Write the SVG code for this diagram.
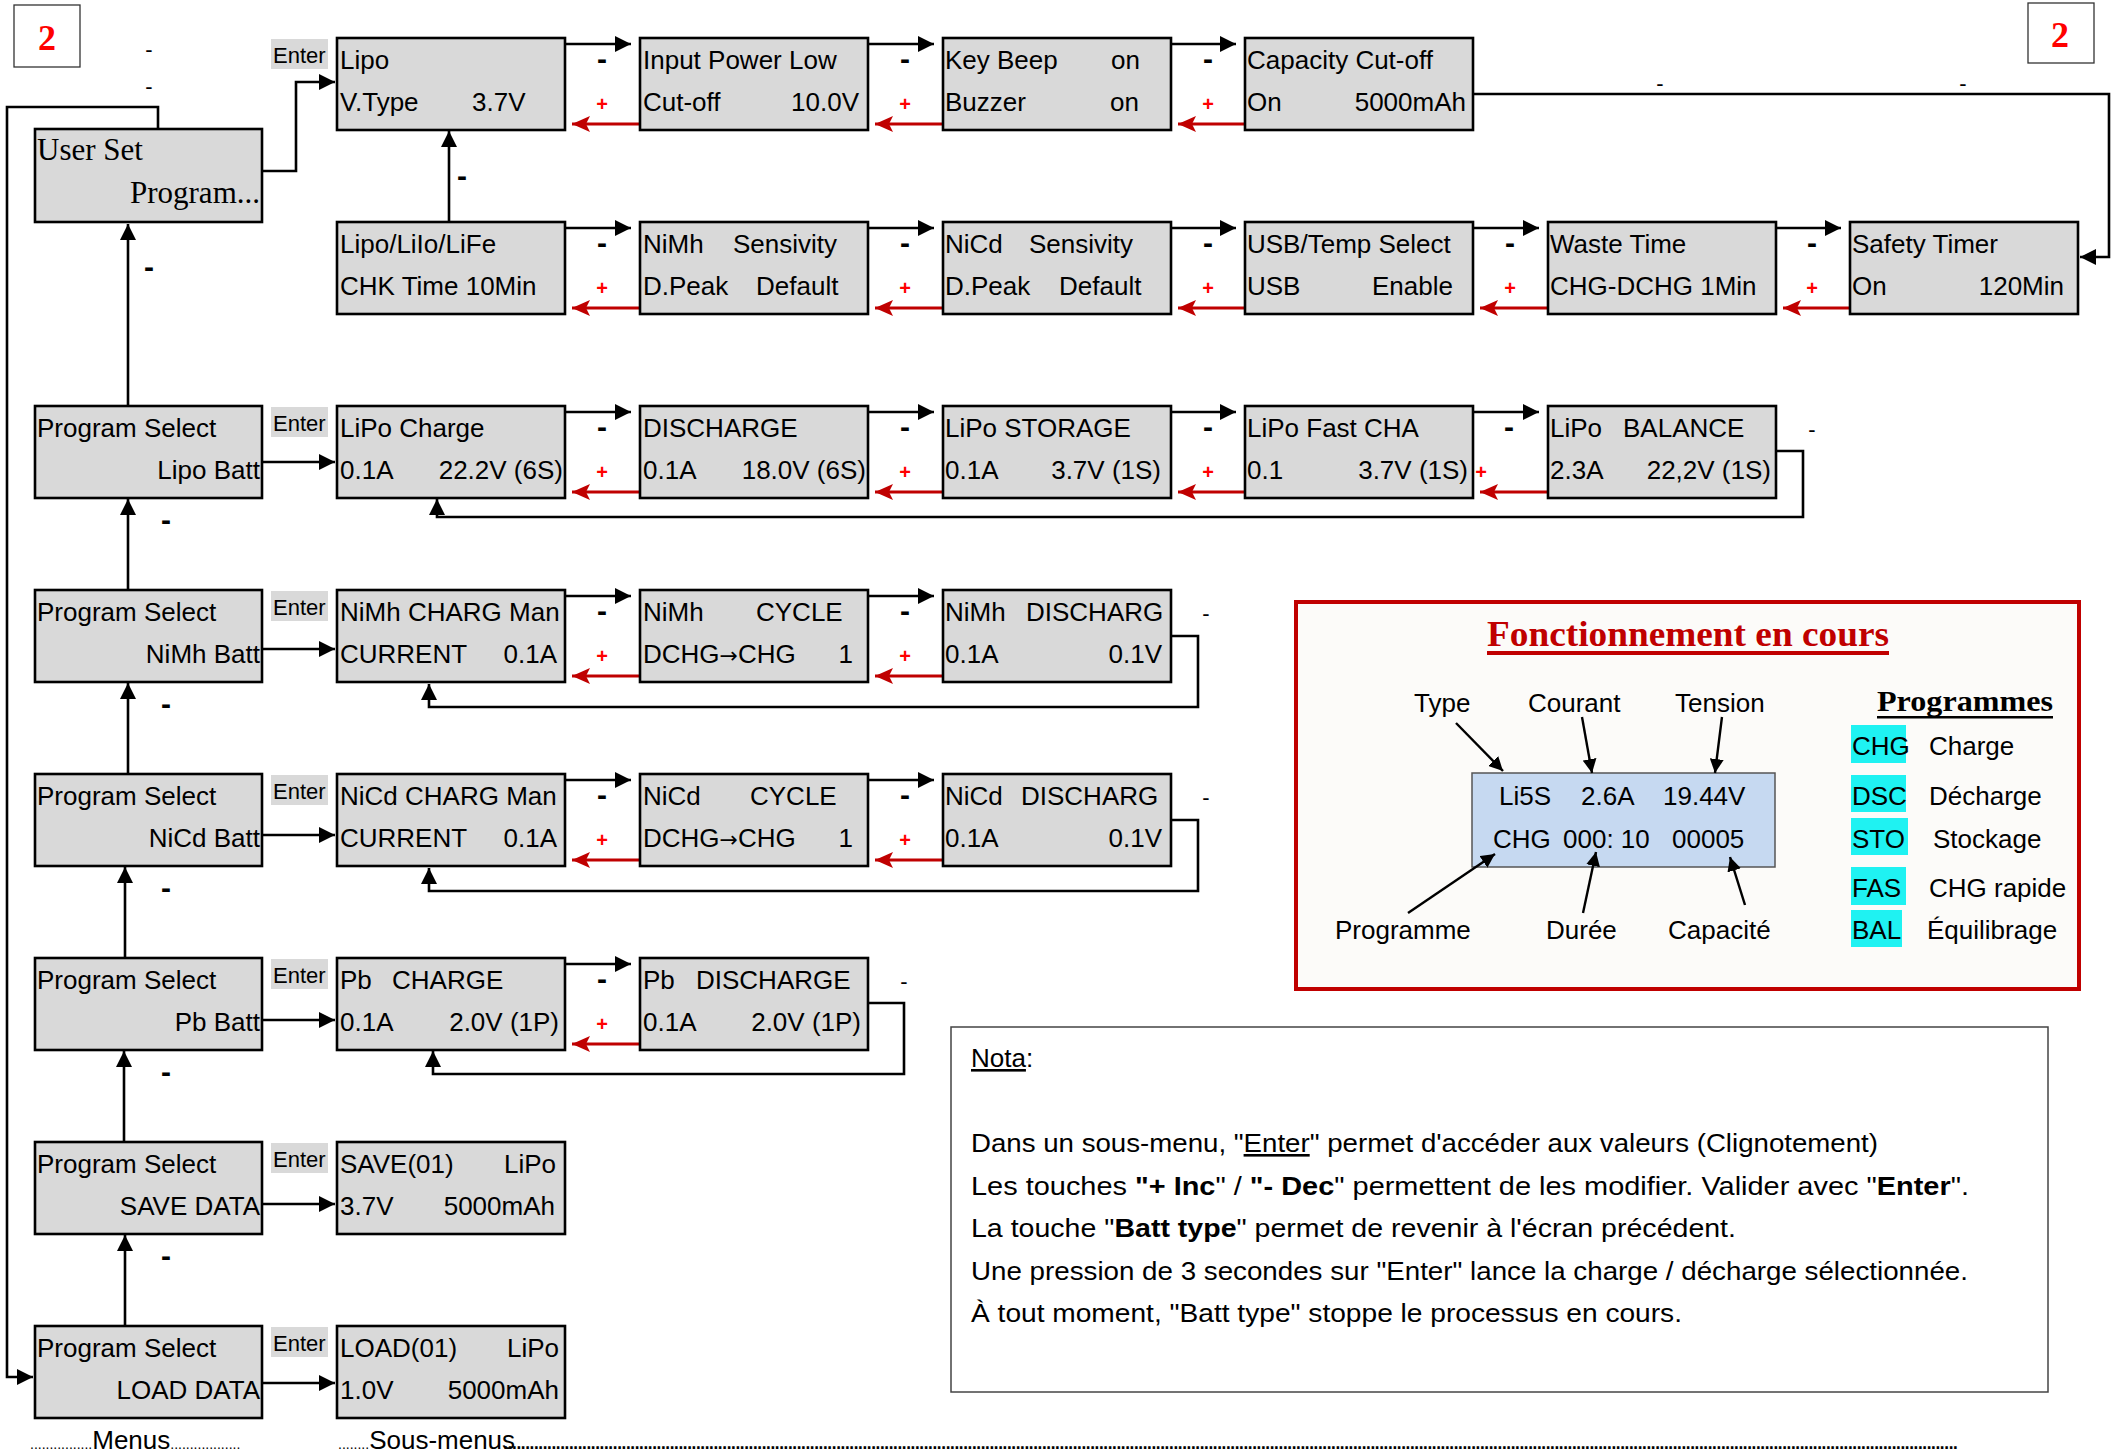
<svg xmlns="http://www.w3.org/2000/svg" width="2123" height="1455" viewBox="0 0 2123 1455">
<defs>
<style>
.box{fill:#d9d9d9;stroke:#000;stroke-width:2.6}
.t{font-family:"Liberation Sans",Arial,sans-serif;font-size:26px;fill:#000}
.se{font-family:"Liberation Serif","Times New Roman",serif}
.ar{font-family:"DejaVu Sans",sans-serif;font-size:22px}
.ent{fill:#d9d9d9}
.et{font-family:"Liberation Sans",Arial,sans-serif;font-size:22px;fill:#000}
.ln{fill:none;stroke:#000;stroke-width:2.6}
.rl{fill:none;stroke:#c00000;stroke-width:3}
.mn{font-family:"Liberation Sans",Arial,sans-serif;font-size:30px;font-weight:bold;text-anchor:middle}
.mt{font-family:"Liberation Sans",Arial,sans-serif;font-size:22px;text-anchor:middle}
.pl{font-family:"Liberation Sans",Arial,sans-serif;font-size:20px;font-weight:bold;fill:#ff0000;text-anchor:middle}
.pa{fill:none;stroke:#000;stroke-width:2.4}
.cy{fill:#1ff2f2}
</style>
<marker id="ah" viewBox="0 0 16 16" refX="16" refY="8" markerWidth="16" markerHeight="16" markerUnits="userSpaceOnUse" orient="auto"><path d="M0,0 L16,8 L0,16 z" fill="#000"/></marker>
<marker id="ar" viewBox="0 0 18 16" refX="18" refY="8" markerWidth="18" markerHeight="16" markerUnits="userSpaceOnUse" orient="auto"><path d="M0,0 L18,8 L0,16 L4,8 z" fill="#c00000"/></marker>
<marker id="as" viewBox="0 0 14 14" refX="14" refY="7" markerWidth="14" markerHeight="14" markerUnits="userSpaceOnUse" orient="auto"><path d="M0,0 L14,7 L0,14 z" fill="#000"/></marker>
</defs>
<rect width="2123" height="1455" fill="#fff"/>

<g id="n-page-left">
<rect x="14" y="5" width="66" height="62" fill="#fff" stroke="#333" stroke-width="1.3"/>
<text class="se" x="47" y="50" font-size="36" font-weight="bold" fill="#ff0000" text-anchor="middle">2</text>
</g>
<g id="n-page-right">
<rect x="2028" y="3" width="66" height="60" fill="#fff" stroke="#333" stroke-width="1.3"/>
<text class="se" x="2060" y="47" font-size="36" font-weight="bold" fill="#ff0000" text-anchor="middle">2</text>
</g>

<g id="connectors">
<path class="ln" d="M158,129 V107 H7 V1377 H33" marker-end="url(#ah)"/>
<path class="ln" d="M260,171 H296 V82 H335" marker-end="url(#ah)"/>
<path class="ln" d="M449,222 V131" marker-end="url(#ah)"/>
<path class="ln" d="M1473,94 H2109 V257 H2080" marker-end="url(#ah)"/>
<path class="ln" d="M128,406 V224" marker-end="url(#ah)"/>
<path class="ln" d="M128,590 V499" marker-end="url(#ah)"/>
<path class="ln" d="M128,774 V683" marker-end="url(#ah)"/>
<path class="ln" d="M125,958 V867" marker-end="url(#ah)"/>
<path class="ln" d="M124,1142 V1051" marker-end="url(#ah)"/>
<path class="ln" d="M125,1326 V1235" marker-end="url(#ah)"/>
<path class="ln" d="M262,462 H335" marker-end="url(#ah)"/>
<path class="ln" d="M262,649 H335" marker-end="url(#ah)"/>
<path class="ln" d="M262,835 H335" marker-end="url(#ah)"/>
<path class="ln" d="M262,1020 H335" marker-end="url(#ah)"/>
<path class="ln" d="M262,1204 H335" marker-end="url(#ah)"/>
<path class="ln" d="M262,1383 H335" marker-end="url(#ah)"/>
<path class="ln" d="M565,44 H631" marker-end="url(#ah)"/>
<path class="ln" d="M868,44 H934" marker-end="url(#ah)"/>
<path class="ln" d="M1171,44 H1236" marker-end="url(#ah)"/>
<path class="rl" d="M640,124 H572" marker-end="url(#ar)"/>
<path class="rl" d="M943,124 H875" marker-end="url(#ar)"/>
<path class="rl" d="M1245,124 H1178" marker-end="url(#ar)"/>
<path class="ln" d="M565,228 H631" marker-end="url(#ah)"/>
<path class="ln" d="M868,228 H934" marker-end="url(#ah)"/>
<path class="ln" d="M1171,228 H1236" marker-end="url(#ah)"/>
<path class="ln" d="M1473,228 H1539" marker-end="url(#ah)"/>
<path class="ln" d="M1776,228 H1841" marker-end="url(#ah)"/>
<path class="rl" d="M640,308 H572" marker-end="url(#ar)"/>
<path class="rl" d="M943,308 H875" marker-end="url(#ar)"/>
<path class="rl" d="M1245,308 H1178" marker-end="url(#ar)"/>
<path class="rl" d="M1548,308 H1480" marker-end="url(#ar)"/>
<path class="rl" d="M1850,308 H1783" marker-end="url(#ar)"/>
<path class="ln" d="M565,412 H631" marker-end="url(#ah)"/>
<path class="ln" d="M868,412 H934" marker-end="url(#ah)"/>
<path class="ln" d="M1171,412 H1236" marker-end="url(#ah)"/>
<path class="ln" d="M1473,412 H1539" marker-end="url(#ah)"/>
<path class="rl" d="M640,492 H572" marker-end="url(#ar)"/>
<path class="rl" d="M943,492 H875" marker-end="url(#ar)"/>
<path class="rl" d="M1245,492 H1178" marker-end="url(#ar)"/>
<path class="rl" d="M1548,492 H1480" marker-end="url(#ar)"/>
<path class="ln" d="M1776,451 H1803 V517 H437 V499" marker-end="url(#ah)"/>
<path class="ln" d="M565,596 H631" marker-end="url(#ah)"/>
<path class="ln" d="M868,596 H934" marker-end="url(#ah)"/>
<path class="rl" d="M640,676 H572" marker-end="url(#ar)"/>
<path class="rl" d="M943,676 H875" marker-end="url(#ar)"/>
<path class="ln" d="M1171,636 H1198 V707 H429 V684" marker-end="url(#ah)"/>
<path class="ln" d="M565,780 H631" marker-end="url(#ah)"/>
<path class="ln" d="M868,780 H934" marker-end="url(#ah)"/>
<path class="rl" d="M640,860 H572" marker-end="url(#ar)"/>
<path class="rl" d="M943,860 H875" marker-end="url(#ar)"/>
<path class="ln" d="M1171,820 H1198 V891 H429 V868" marker-end="url(#ah)"/>
<path class="ln" d="M565,964 H631" marker-end="url(#ah)"/>
<path class="rl" d="M640,1044 H572" marker-end="url(#ar)"/>
<path class="ln" d="M868,1003 H904 V1074 H433 V1051" marker-end="url(#ah)"/>
</g>

<g id="connector-labels">
<text class="mt" x="149" y="57" font-size="18">-</text>
<text class="mt" x="149" y="94">-</text>
<text class="mt" x="1660" y="91">-</text>
<text class="mt" x="1963" y="91">-</text>
<text class="mn" x="149" y="277">-</text>
<text class="mn" x="462" y="186">-</text>
<text class="mn" x="166" y="530">-</text>
<text class="mn" x="166" y="714">-</text>
<text class="mn" x="166" y="898">-</text>
<text class="mn" x="166" y="1082">-</text>
<text class="mn" x="166" y="1266">-</text>
<text class="mn" x="602" y="69">-</text><text class="mn" x="905" y="69">-</text><text class="mn" x="1208" y="69">-</text>
<text class="pl" x="602" y="111">+</text><text class="pl" x="905" y="111">+</text><text class="pl" x="1208" y="111">+</text>
<text class="mn" x="602" y="253">-</text><text class="mn" x="905" y="253">-</text><text class="mn" x="1208" y="253">-</text><text class="mn" x="1510" y="253">-</text><text class="mn" x="1812" y="253">-</text>
<text class="pl" x="602" y="295">+</text><text class="pl" x="905" y="295">+</text><text class="pl" x="1208" y="295">+</text><text class="pl" x="1510" y="295">+</text><text class="pl" x="1812" y="295">+</text>
<text class="mn" x="602" y="437">-</text><text class="mn" x="905" y="437">-</text><text class="mn" x="1208" y="437">-</text><text class="mn" x="1509" y="437">-</text>
<text class="pl" x="602" y="479">+</text><text class="pl" x="905" y="479">+</text><text class="pl" x="1208" y="479">+</text><text class="pl" x="1481" y="479">+</text>
<text class="mt" x="1812" y="437" font-size="24">-</text>
<text class="mn" x="602" y="621">-</text><text class="mn" x="905" y="621">-</text>
<text class="pl" x="602" y="663">+</text><text class="pl" x="905" y="663">+</text>
<text class="mt" x="1206" y="621" font-size="24">-</text>
<text class="mn" x="602" y="805">-</text><text class="mn" x="905" y="805">-</text>
<text class="pl" x="602" y="847">+</text><text class="pl" x="905" y="847">+</text>
<text class="mt" x="1206" y="805" font-size="24">-</text>
<text class="mn" x="602" y="989">-</text>
<text class="pl" x="602" y="1031">+</text>
<text class="mt" x="904" y="989" font-size="24">-</text>
</g>

<g id="enter-labels">
<rect class="ent" x="271" y="39" width="57" height="30"/><text class="et" x="273" y="63">Enter</text>
<rect class="ent" x="271" y="407" width="57" height="30"/><text class="et" x="273" y="431">Enter</text>
<rect class="ent" x="271" y="591" width="57" height="30"/><text class="et" x="273" y="615">Enter</text>
<rect class="ent" x="271" y="775" width="57" height="30"/><text class="et" x="273" y="799">Enter</text>
<rect class="ent" x="271" y="959" width="57" height="30"/><text class="et" x="273" y="983">Enter</text>
<rect class="ent" x="271" y="1143" width="57" height="30"/><text class="et" x="273" y="1167">Enter</text>
<rect class="ent" x="271" y="1327" width="57" height="30"/><text class="et" x="273" y="1351">Enter</text>
</g>

<g id="n-userset"><rect class="box" x="35" y="129" width="227" height="93"/>
<text class="se" x="37" y="160" font-size="31">User Set</text>
<text class="se" x="260" y="203" font-size="31" text-anchor="end">Program...</text></g>
<g id="n-menu-lipo"><rect class="box" x="35" y="406" width="227" height="92"/>
<text class="t" x="37" y="437">Program Select</text><text class="t" x="260" y="479" text-anchor="end">Lipo Batt</text></g>
<g id="n-menu-nimh"><rect class="box" x="35" y="590" width="227" height="92"/>
<text class="t" x="37" y="621">Program Select</text><text class="t" x="260" y="663" text-anchor="end">NiMh Batt</text></g>
<g id="n-menu-nicd"><rect class="box" x="35" y="774" width="227" height="92"/>
<text class="t" x="37" y="805">Program Select</text><text class="t" x="260" y="847" text-anchor="end">NiCd Batt</text></g>
<g id="n-menu-pb"><rect class="box" x="35" y="958" width="227" height="92"/>
<text class="t" x="37" y="989">Program Select</text><text class="t" x="260" y="1031" text-anchor="end">Pb Batt</text></g>
<g id="n-menu-save"><rect class="box" x="35" y="1142" width="227" height="92"/>
<text class="t" x="37" y="1173">Program Select</text><text class="t" x="260" y="1215" text-anchor="end">SAVE DATA</text></g>
<g id="n-menu-load"><rect class="box" x="35" y="1326" width="227" height="92"/>
<text class="t" x="37" y="1357">Program Select</text><text class="t" x="260" y="1399" text-anchor="end">LOAD DATA</text></g>

<g id="n-lipo-vtype"><rect class="box" x="337" y="38" width="228" height="92"/>
<text class="t" x="340" y="69">Lipo</text><text class="t" x="340" y="111">V.Type<tspan x="472">3.7V</tspan></text></g>
<g id="n-input-power"><rect class="box" x="640" y="38" width="228" height="92"/>
<text class="t" x="643" y="69">Input Power Low</text><text class="t" x="643" y="111">Cut-off<tspan x="859" text-anchor="end">10.0V</tspan></text></g>
<g id="n-keybeep"><rect class="box" x="943" y="38" width="228" height="92"/>
<text class="t" x="945" y="69">Key Beep<tspan x="1140" text-anchor="end">on</tspan></text><text class="t" x="945" y="111">Buzzer<tspan x="1139" text-anchor="end">on</tspan></text></g>
<g id="n-capacity"><rect class="box" x="1245" y="38" width="228" height="92"/>
<text class="t" x="1247" y="69">Capacity Cut-off</text><text class="t" x="1247" y="111">On<tspan x="1466" text-anchor="end">5000mAh</tspan></text></g>

<g id="n-chemistry"><rect class="box" x="337" y="222" width="228" height="92"/>
<text class="t" x="340" y="253">Lipo/LiIo/LiFe</text><text class="t" x="340" y="295">CHK Time 10Min</text></g>
<g id="n-nimh-sens"><rect class="box" x="640" y="222" width="228" height="92"/>
<text class="t" x="643" y="253">NiMh<tspan x="733">Sensivity</tspan></text><text class="t" x="643" y="295">D.Peak<tspan x="756">Default</tspan></text></g>
<g id="n-nicd-sens"><rect class="box" x="943" y="222" width="228" height="92"/>
<text class="t" x="945" y="253">NiCd<tspan x="1029">Sensivity</tspan></text><text class="t" x="945" y="295">D.Peak<tspan x="1059">Default</tspan></text></g>
<g id="n-usb"><rect class="box" x="1245" y="222" width="228" height="92"/>
<text class="t" x="1247" y="253">USB/Temp Select</text><text class="t" x="1247" y="295">USB<tspan x="1372">Enable</tspan></text></g>
<g id="n-waste"><rect class="box" x="1548" y="222" width="228" height="92"/>
<text class="t" x="1550" y="253">Waste Time</text><text class="t" x="1550" y="295">CHG-DCHG 1Min</text></g>
<g id="n-safety"><rect class="box" x="1850" y="222" width="228" height="92"/>
<text class="t" x="1852" y="253">Safety Timer</text><text class="t" x="1852" y="295">On<tspan x="2064" text-anchor="end">120Min</tspan></text></g>

<g id="n-lipo-charge"><rect class="box" x="337" y="406" width="228" height="92"/>
<text class="t" x="340" y="437">LiPo Charge</text><text class="t" x="340" y="479">0.1A<tspan x="563" text-anchor="end">22.2V (6S)</tspan></text></g>
<g id="n-lipo-dis"><rect class="box" x="640" y="406" width="228" height="92"/>
<text class="t" x="643" y="437">DISCHARGE</text><text class="t" x="643" y="479">0.1A<tspan x="866" text-anchor="end">18.0V (6S)</tspan></text></g>
<g id="n-lipo-sto"><rect class="box" x="943" y="406" width="228" height="92"/>
<text class="t" x="945" y="437">LiPo STORAGE</text><text class="t" x="945" y="479">0.1A<tspan x="1161" text-anchor="end">3.7V (1S)</tspan></text></g>
<g id="n-lipo-fast"><rect class="box" x="1245" y="406" width="228" height="92"/>
<text class="t" x="1247" y="437">LiPo Fast CHA</text><text class="t" x="1247" y="479">0.1<tspan x="1468" text-anchor="end">3.7V (1S)</tspan></text></g>
<g id="n-lipo-bal"><rect class="box" x="1548" y="406" width="228" height="92"/>
<text class="t" x="1550" y="437">LiPo<tspan x="1623">BALANCE</tspan></text><text class="t" x="1550" y="479">2.3A<tspan x="1771" text-anchor="end">22,2V (1S)</tspan></text></g>

<g id="n-nimh-chg"><rect class="box" x="337" y="590" width="228" height="92"/>
<text class="t" x="340" y="621">NiMh CHARG Man</text><text class="t" x="340" y="663">CURRENT<tspan x="557" text-anchor="end">0.1A</tspan></text></g>
<g id="n-nimh-cyc"><rect class="box" x="640" y="590" width="228" height="92"/>
<text class="t" x="643" y="621">NiMh<tspan x="756">CYCLE</tspan></text><text class="t" x="643" y="663">DCHG<tspan class="ar">→</tspan>CHG<tspan x="853" text-anchor="end">1</tspan></text></g>
<g id="n-nimh-dis"><rect class="box" x="943" y="590" width="228" height="92"/>
<text class="t" x="945" y="621">NiMh<tspan x="1026">DISCHARG</tspan></text><text class="t" x="945" y="663">0.1A<tspan x="1162" text-anchor="end">0.1V</tspan></text></g>

<g id="n-nicd-chg"><rect class="box" x="337" y="774" width="228" height="92"/>
<text class="t" x="340" y="805">NiCd CHARG Man</text><text class="t" x="340" y="847">CURRENT<tspan x="557" text-anchor="end">0.1A</tspan></text></g>
<g id="n-nicd-cyc"><rect class="box" x="640" y="774" width="228" height="92"/>
<text class="t" x="643" y="805">NiCd<tspan x="750">CYCLE</tspan></text><text class="t" x="643" y="847">DCHG<tspan class="ar">→</tspan>CHG<tspan x="853" text-anchor="end">1</tspan></text></g>
<g id="n-nicd-dis"><rect class="box" x="943" y="774" width="228" height="92"/>
<text class="t" x="945" y="805">NiCd<tspan x="1021">DISCHARG</tspan></text><text class="t" x="945" y="847">0.1A<tspan x="1162" text-anchor="end">0.1V</tspan></text></g>

<g id="n-pb-chg"><rect class="box" x="337" y="958" width="228" height="92"/>
<text class="t" x="340" y="989">Pb<tspan x="392">CHARGE</tspan></text><text class="t" x="340" y="1031">0.1A<tspan x="559" text-anchor="end">2.0V (1P)</tspan></text></g>
<g id="n-pb-dis"><rect class="box" x="640" y="958" width="228" height="92"/>
<text class="t" x="643" y="989">Pb<tspan x="696">DISCHARGE</tspan></text><text class="t" x="643" y="1031">0.1A<tspan x="861" text-anchor="end">2.0V (1P)</tspan></text></g>

<g id="n-save"><rect class="box" x="337" y="1142" width="228" height="92"/>
<text class="t" x="340" y="1173">SAVE(01)<tspan x="556" text-anchor="end">LiPo</tspan></text><text class="t" x="340" y="1215">3.7V<tspan x="555" text-anchor="end">5000mAh</tspan></text></g>
<g id="n-load"><rect class="box" x="337" y="1326" width="228" height="92"/>
<text class="t" x="340" y="1357">LOAD(01)<tspan x="559" text-anchor="end">LiPo</tspan></text><text class="t" x="340" y="1399">1.0V<tspan x="559" text-anchor="end">5000mAh</tspan></text></g>

<g id="n-panel">
<rect x="1296" y="602" width="783" height="387" fill="#fcfbf9" stroke="#c00000" stroke-width="4"/>
<text class="se" x="1487" y="646" font-size="36" font-weight="bold" fill="#c00000" textLength="402" lengthAdjust="spacingAndGlyphs">Fonctionnement en cours</text>
<rect x="1487" y="651" width="402" height="4" fill="#c00000"/>
<text class="t" x="1414" y="712" font-size="25">Type</text>
<text class="t" x="1528" y="712" font-size="25">Courant</text>
<text class="t" x="1675" y="712" font-size="25">Tension</text>
<rect x="1472" y="773" width="303" height="94" fill="#c6d9f1" stroke="#555" stroke-width="1.5"/>
<text class="t" x="1499" y="805" font-size="27">Li5S<tspan x="1581">2.6A</tspan><tspan x="1663">19.44V</tspan></text>
<text class="t" x="1493" y="848" font-size="27">CHG<tspan x="1563">000: 10</tspan><tspan x="1672">00005</tspan></text>
<path class="pa" d="M1456,723 L1503,771" marker-end="url(#as)"/>
<path class="pa" d="M1582,717 L1592,773" marker-end="url(#as)"/>
<path class="pa" d="M1722,717 L1715,773" marker-end="url(#as)"/>
<path class="pa" d="M1408,913 L1495,854" marker-end="url(#as)"/>
<path class="pa" d="M1583,913 L1596,852" marker-end="url(#as)"/>
<path class="pa" d="M1745,905 L1730,857" marker-end="url(#as)"/>
<text class="t" x="1335" y="939" font-size="25">Programme</text>
<text class="t" x="1546" y="939" font-size="25">Durée</text>
<text class="t" x="1668" y="939" font-size="25">Capacité</text>
<text class="se" x="1877" y="711" font-size="30" font-weight="bold" textLength="176" lengthAdjust="spacingAndGlyphs">Programmes</text>
<rect x="1877" y="716" width="176" height="2.5" fill="#000"/>
<rect class="cy" x="1851" y="725" width="55" height="38"/>
<rect class="cy" x="1851" y="775" width="55" height="37"/>
<rect class="cy" x="1851" y="818" width="57" height="37"/>
<rect class="cy" x="1851" y="867" width="55" height="38"/>
<rect class="cy" x="1851" y="910" width="51" height="37"/>
<text class="t" x="1852" y="755" font-size="26">CHG</text><text class="t" x="1929" y="755" font-size="26">Charge</text>
<text class="t" x="1852" y="805" font-size="26">DSC</text><text class="t" x="1929" y="805" font-size="26">Décharge</text>
<text class="t" x="1852" y="848" font-size="26">STO</text><text class="t" x="1933" y="848" font-size="26">Stockage</text>
<text class="t" x="1852" y="897" font-size="26">FAS</text><text class="t" x="1929" y="897" font-size="26">CHG rapide</text>
<text class="t" x="1852" y="939" font-size="26">BAL</text><text class="t" x="1927" y="939" font-size="26">Équilibrage</text>
</g>

<g id="n-nota">
<rect x="951" y="1027" width="1097" height="365" fill="#fff" stroke="#444" stroke-width="1.5"/>
<text class="t" x="971" y="1067" font-size="24"><tspan text-decoration="underline">Nota</tspan>:</text>
<text class="t" x="971" y="1152" font-size="23" textLength="907" lengthAdjust="spacingAndGlyphs">Dans un sous-menu, "<tspan text-decoration="underline">Enter</tspan>" permet d'accéder aux valeurs (Clignotement)</text>
<text class="t" x="971" y="1195" font-size="23" textLength="998" lengthAdjust="spacingAndGlyphs">Les touches <tspan font-weight="bold">"+ Inc</tspan>" / <tspan font-weight="bold">"- Dec</tspan>" permettent de les modifier. Valider avec "<tspan font-weight="bold">Enter</tspan>".</text>
<text class="t" x="971" y="1237" font-size="23" textLength="765" lengthAdjust="spacingAndGlyphs">La touche "<tspan font-weight="bold">Batt type</tspan>" permet de revenir à l'écran précédent.</text>
<text class="t" x="971" y="1280" font-size="23" textLength="997" lengthAdjust="spacingAndGlyphs">Une pression de 3 secondes sur "Enter" lance la charge / décharge sélectionnée.</text>
<text class="t" x="971" y="1322" font-size="23" textLength="711" lengthAdjust="spacingAndGlyphs">À tout moment, "Batt type" stoppe le processus en cours.</text>
</g>

<g id="footer">
<text class="t" x="30" y="1449" font-size="23"><tspan font-size="14">................</tspan>Menus<tspan font-size="14">..................</tspan></text>
<text class="t" x="338" y="1449" font-size="23"><tspan font-size="14">........</tspan>Sous-menus</text>
<text class="t" x="502" y="1449" font-size="14" textLength="1457" lengthAdjust="spacing">............................................................................................................................................................................................................................................................................................................................................</text>
</g>
</svg>
